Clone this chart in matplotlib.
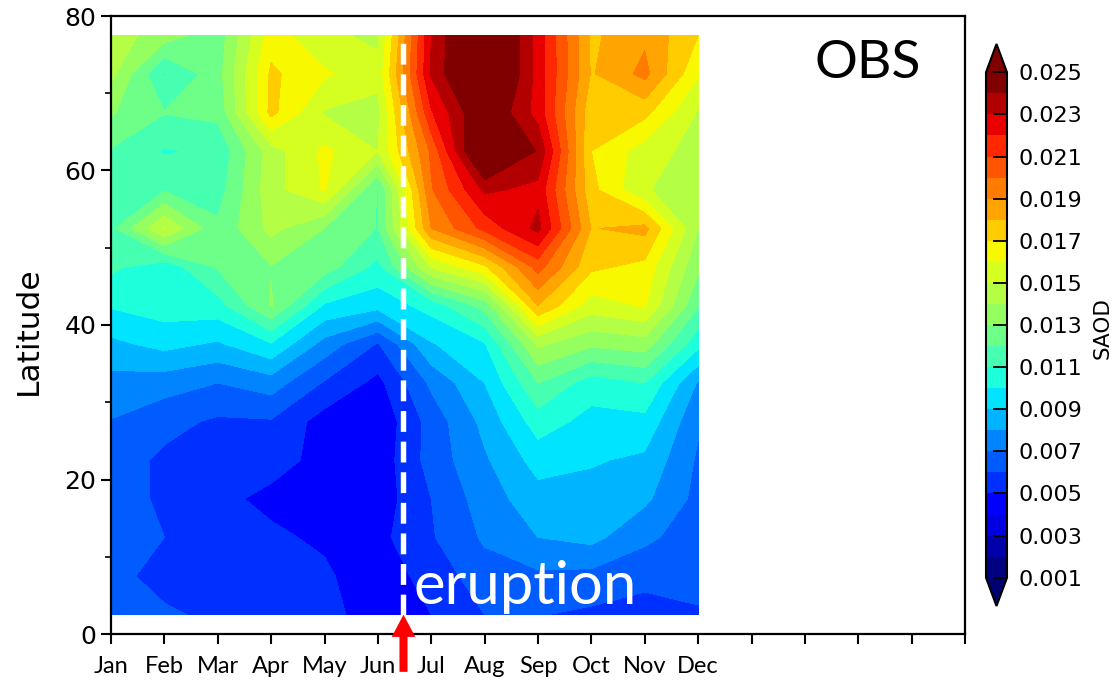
import numpy as np
import matplotlib
matplotlib.use("Agg")
import matplotlib.pyplot as plt

MONTHS = ["Jan","Feb","Mar","Apr","May","Jun","Jul","Aug","Sep","Oct","Nov","Dec"]
LATS = [2.5,7.5,12.5,17.5,22.5,27.5,32.5,37.5,42.5,47.5,52.5,57.5,62.5,67.5,72.5,77.5]
jan = [6.3,6.3,6.3,6.4,6.5,6.95,7.65,8.75,10.1,11.2,11.75,11.6,11.9,13.1,14.3,14.5]
feb = [6.15,5.65,6.0,5.85,5.8,6.3,7.45,9.3,10.5,10.4,15.05,11.9,10.9,12.05,10.9,13.5]
mar = [5.8,5.4,5.4,5.2,5.4,5.85,7.0,8.85,10.6,12.1,12.2,11.55,11.2,12.3,12.6,12.4]
apr = [5.5,5.3,5.15,4.8,5.3,5.9,7.5,9.9,13.1,12.95,14.3,14.6,14.55,17.3,17.2,16.5]
may = [5.2,5.15,4.85,4.7,4.75,4.55,5.9,7.6,9.85,12.5,13.0,16.1,16.2,14.9,16.15,15.2]
jun = [4.7,4.4,4.7,4.4,4.35,4.2,4.7,5.9,9.35,10.7,11.95,11.9,15.0,14.7,15.3,14.8]
jul = [5.0,5.4,5.9,6.0,6.4,6.4,7.2,8.9,10.4,15.1,19.0,19.9,20.2,21.9,23.1,23.0]
aug = [6.0,6.55,7.15,7.5,7.85,8.3,9.0,9.9,12.4,16.8,21.3,23.2,26.3,25.3,26.7,26.7]
sep = [6.05,6.8,8.0,8.6,9.4,10.5,12.0,14.2,18.0,20.4,23.3,22.7,23.9,22.6,22.6,22.6]
oct_ = [5.8,6.7,8.3,8.6,9.1,9.65,10.5,13.2,15.5,17.2,17.95,17.3,17.0,17.3,17.9,17.8]
nov = [5.5,6.35,7.2,8.2,8.8,9.7,11.0,13.5,16.1,16.7,18.3,15.1,15.5,17.3,19.3,18.8]
dec = [5.9,6.3,6.5,6.7,6.85,7.15,7.9,10.3,12.1,13.2,14.0,14.3,14.6,14.9,16.1,17.0]
LEVELS = [round(0.001*i, 3) for i in range(1, 26)]
CB_TICKS = LEVELS[::2]
PALETTE = ["#000070","#000080","#0000aa","#0000e0","#0000ff","#0030ff","#005cff","#0084ff",
           "#00b4ff","#00e4ff","#1effdc","#46ffb0","#6eff88","#96ff60","#b4ff46","#d4ff20",
           "#f8f800","#ffcc00","#ffa400","#ff7c00","#ff5400","#ff2800","#e80000","#b20000",
           "#800000","#800000"]

sao = np.array([jan,feb,mar,apr,may,jun,jul,aug,sep,oct_,nov,dec]).T * 0.001

W, H = 1117, 680
fig = plt.figure(figsize=(W/100, H/100), dpi=100)
ax = fig.add_axes([111/W, 1-634/H, (965-111)/W, (634-16)/H])
cf = ax.contourf(np.arange(12), LATS, sao, levels=LEVELS, colors=PALETTE, extend="both")
ax.set_xlim(0, 16)
ax.set_ylim(0, 80)
ax.set_xticks(range(17))
ax.set_xticklabels(MONTHS + [""]*5, fontsize=17, family="Lato")
ax.tick_params(axis="x", length=7, width=1.5, pad=9)
ax.set_yticks([0,20,40,60,80])
ax.set_yticks([10,30,50,70], minor=True)
ax.tick_params(axis="y", which="major", length=7, width=1.5, labelsize=18)
ax.tick_params(axis="y", which="minor", length=4, width=1.2)
ax.set_ylabel("Latitude", fontsize=22.5)
ax.yaxis.set_label_coords((43-111)/(965-111), 0.49)
for s in ax.spines.values():
    s.set_linewidth(1.6)

ax.plot([5.48, 5.48], [LATS[0], LATS[-1]], color="white", lw=3.9, dashes=(3.85, 1.8))
ax.text(5.66, 3.9, "eruption", color="white", fontsize=43, family="Lato", va="baseline", ha="left")
ax.text(14.17, 73.9, "OBS", color="black", fontsize=38.5, family="Lato", va="center", ha="center")
ax.annotate("", xy=(5.48, 2.5), xytext=(5.48, -4.9), annotation_clip=False,
            arrowprops=dict(arrowstyle="simple,head_length=1.6,head_width=1.7,tail_width=0.58",
                            mutation_scale=10, color="#ff0000", lw=0, shrinkA=0, shrinkB=0))

cax = fig.add_axes([986/W, 1-606/H, 21/W, (606-44)/H])
cb = fig.colorbar(cf, cax=cax, extend="both", extendfrac=0.056, spacing="uniform", ticks=CB_TICKS)
cb.ax.set_yticklabels([f"{t:.3f}" for t in CB_TICKS], fontsize=16)
cb.ax.tick_params(direction="in", length=10, width=1.3, pad=8, right=True, left=False)
cb.outline.set_linewidth(1.5)
fig.text(1103/W, 1-328/H, "SAOD", rotation=90, fontsize=15.5, ha="center", va="center")
fig.savefig("out.png", dpi=100)
